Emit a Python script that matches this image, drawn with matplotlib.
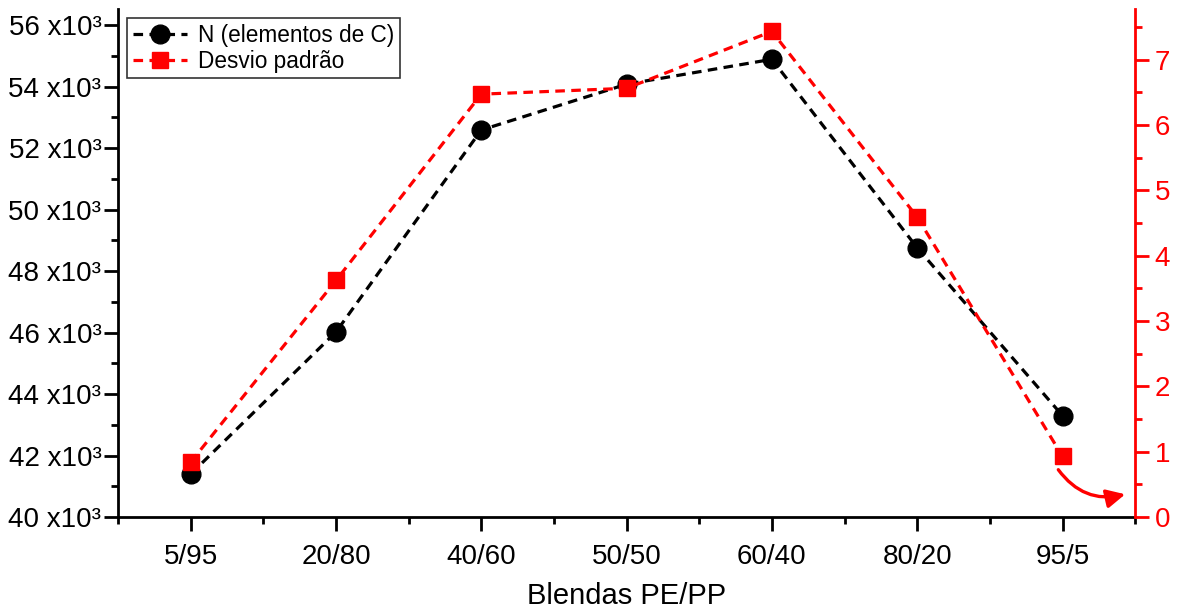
import numpy as np
import matplotlib.pyplot as plt
from matplotlib.ticker import MultipleLocator, FuncFormatter

plt.rcParams['font.family'] = ['Liberation Sans', 'DejaVu Sans']

# blendas PE/PP
blendas = ['5/95', '20/80', '40/60', '50/50', '60/40', '80/20', '95/5']
# numero de elementos de C
n_elementos = [41400, 46020, 52590, 54080, 54890, 48760, 43300]
# desvio padrao
desvio = [0.84, 3.62, 6.47, 6.56, 7.43, 4.59, 0.93]

x = np.arange(len(blendas))

fig = plt.figure(figsize=(11.8, 6.12), dpi=100)
ax = fig.add_axes([0.1, 0.155, 0.862, 0.83])
ax2 = ax.twinx()

l1, = ax.plot(x, n_elementos, color='black', linestyle=(0, (3, 2)), linewidth=2.3,
              marker='o', markersize=13.5, label='N (elementos de C)')
l2, = ax2.plot(x, desvio, color='red', linestyle=(0, (3, 2)), linewidth=2.3,
               marker='s', markersize=11.5, label='Desvio padrão')

ax.set_xlim(-0.5, 6.5)
ax.set_ylim(40000, 56520)
ax2.set_ylim(0, 7.77)

ax.set_xticks(x)
ax.set_xticklabels(blendas)
ax.xaxis.set_minor_locator(MultipleLocator(0.5))
ax.yaxis.set_major_locator(MultipleLocator(2000))
ax.yaxis.set_minor_locator(MultipleLocator(1000))
ax.yaxis.set_major_formatter(FuncFormatter(lambda v, p: '%d x10³' % round(v / 1000)))
ax2.yaxis.set_major_locator(MultipleLocator(1))
ax2.yaxis.set_minor_locator(MultipleLocator(0.5))

for a in (ax, ax2):
    a.spines['top'].set_visible(False)
    for s in a.spines.values():
        s.set_linewidth(2)
ax.spines['right'].set_visible(False)
ax2.spines['left'].set_visible(False)
ax2.spines['bottom'].set_visible(False)
ax2.spines['right'].set_color('red')

ax.tick_params(which='major', length=10, width=2, labelsize=20)
ax.tick_params(axis='y', which='major', pad=2)
ax.tick_params(axis='x', which='major', pad=9)
ax.tick_params(which='minor', length=5, width=2)
ax2.tick_params(which='major', length=10, width=2, labelsize=20, colors='red', pad=4)
ax2.tick_params(which='minor', length=5, width=2, colors='red')

ax.set_xlabel('Blendas PE/PP', fontsize=21, labelpad=9)

# seta indicando o eixo do desvio
ax2.annotate('', xy=(6.45, 0.36), xytext=(5.96, 0.76),
             arrowprops=dict(arrowstyle='-|>', color='red', lw=2.4,
                             mutation_scale=28,
                             connectionstyle='arc3,rad=0.35'))

leg = ax.legend(handles=[l1, l2], loc='upper left', fontsize=16.3,
                frameon=True, fancybox=False, edgecolor='black',
                borderaxespad=0.4, handlelength=2.4, handletextpad=0.5,
                labelspacing=0.12, borderpad=0.25, bbox_to_anchor=(0.0, 1.0))
leg.get_frame().set_linewidth(1.2)

plt.savefig('out.png', dpi=100)
